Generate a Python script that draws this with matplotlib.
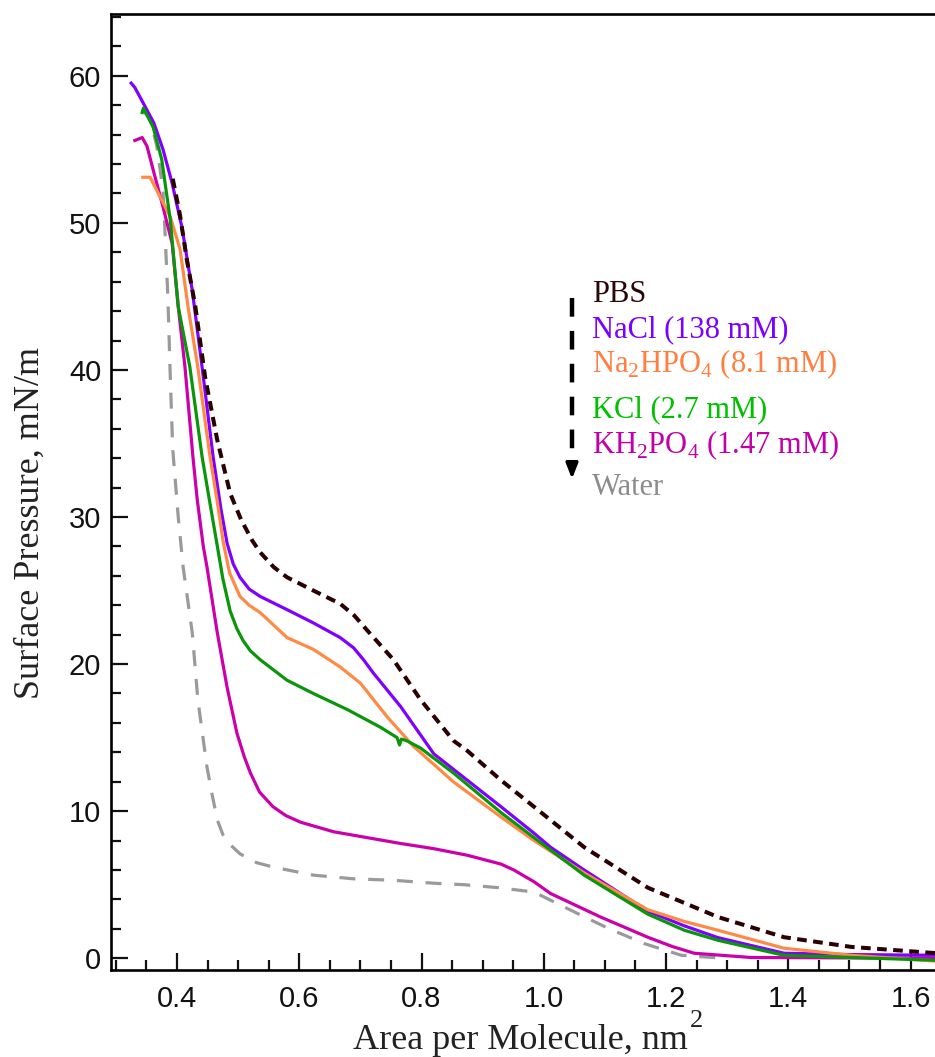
import matplotlib
matplotlib.use("Agg")
import matplotlib.pyplot as plt
from matplotlib.ticker import MultipleLocator
from matplotlib.lines import Line2D

# ---------------- data ----------------
pbs_x = [0.393, 0.405, 0.416, 0.430, 0.446, 0.466, 0.487, 0.505, 0.523, 0.536, 0.558, 0.580,
         0.623, 0.667, 0.690, 0.711, 0.754, 0.798, 0.852, 0.875, 0.930, 0.984, 1.066, 1.170,
         1.285, 1.393, 1.503, 1.643]
pbs_y = [53.0, 50.5, 47.5, 44.3, 39.5, 35.2, 31.6, 29.8, 28.4, 27.6, 26.6, 25.9,
         25.0, 24.1, 23.3, 22.3, 20.3, 17.6, 14.8, 14.1, 12.1, 10.3, 7.55, 4.8,
         2.8, 1.43, 0.77, 0.34]

nacl_x = [0.325, 0.331, 0.344, 0.362, 0.377, 0.392, 0.408, 0.425, 0.441, 0.459, 0.472, 0.482,
          0.492, 0.503, 0.518, 0.536, 0.580, 0.623, 0.667, 0.689, 0.705, 0.721, 0.766, 0.820,
          0.875, 0.930, 0.984, 1.011, 1.066, 1.170, 1.230, 1.285, 1.393, 1.500, 1.643]
nacl_y = [59.5, 59.2, 58.2, 56.8, 55.0, 52.7, 49.7, 45.4, 40.2, 34.1, 30.5, 28.2,
          26.8, 25.9, 25.1, 24.6, 23.7, 22.8, 21.8, 21.1, 20.3, 19.4, 17.1, 13.9,
          12.1, 10.3, 8.5, 7.55, 6.0, 3.2, 2.2, 1.4, 0.34, 0.25, 0.2]

na2_x = [0.344, 0.356, 0.367, 0.389, 0.405, 0.418, 0.434, 0.454, 0.466, 0.476, 0.486, 0.503,
         0.518, 0.536, 0.580, 0.623, 0.667, 0.700, 0.744, 0.787, 0.852, 0.930, 0.984, 1.066,
         1.170, 1.230, 1.285, 1.393, 1.503, 1.643]
na2_y = [53.1, 53.1, 52.2, 50.4, 48.2, 44.3, 40.2, 34.1, 31.0, 28.2, 26.2, 24.6,
         24.0, 23.5, 21.8, 21.0, 19.8, 18.7, 16.4, 14.4, 12.0, 9.6, 8.0, 5.8,
         3.3, 2.5, 1.9, 0.68, 0.2, -0.2]

kcl_x = [0.343, 0.345, 0.361, 0.375, 0.389, 0.402, 0.421, 0.441, 0.454, 0.466, 0.475, 0.487,
         0.498, 0.508, 0.520, 0.536, 0.580, 0.623, 0.679, 0.733, 0.760, 0.764, 0.767, 0.775,
         0.798, 0.852, 0.930, 0.984, 1.066, 1.170, 1.230, 1.285, 1.393, 1.643]
kcl_y = [57.5, 57.8, 56.5, 54.3, 50.2, 44.3, 40.2, 34.1, 30.9, 28.0, 25.8, 23.6,
         22.4, 21.6, 20.9, 20.3, 18.9, 18.0, 16.9, 15.7, 15.0, 14.5, 14.9, 14.8,
         14.3, 12.6, 9.9, 8.2, 5.65, 3.0, 1.9, 1.22, 0.2, -0.14]

kh2_x = [0.331, 0.343, 0.351, 0.361, 0.377, 0.392, 0.402, 0.413, 0.426, 0.433, 0.443, 0.449,
         0.466, 0.482, 0.498, 0.510, 0.520, 0.535, 0.557, 0.578, 0.602, 0.656, 0.711, 0.766,
         0.820, 0.875, 0.930, 0.951, 0.984, 1.011, 1.093, 1.170, 1.210, 1.246, 1.339, 1.643]
kh2_y = [55.6, 55.8, 55.2, 53.6, 51.1, 48.6, 44.3, 40.2, 34.1, 31.2, 28.0, 26.6,
         22.1, 18.4, 15.3, 13.7, 12.6, 11.3, 10.3, 9.7, 9.25, 8.6, 8.2, 7.8,
         7.45, 7.0, 6.4, 6.0, 5.2, 4.4, 2.8, 1.43, 0.8, 0.34, 0.05, 0.0]

water_x = [0.343, 0.356, 0.367, 0.377, 0.380, 0.385, 0.389, 0.393, 0.402, 0.410, 0.425, 0.434,
           0.449, 0.458, 0.466, 0.475, 0.485, 0.503, 0.530, 0.557, 0.623, 0.689, 0.754, 0.820,
           0.869, 0.925, 0.984, 1.044, 1.105, 1.164, 1.225, 1.295]
water_y = [57.7, 57.1, 55.2, 52.2, 49.7, 45.0, 39.5, 34.6, 30.0, 26.6, 22.1, 17.6,
           13.0, 11.0, 9.4, 8.4, 7.8, 7.1, 6.5, 6.2, 5.65, 5.4, 5.3, 5.1,
           5.0, 4.8, 4.5, 3.27, 2.04, 1.0, 0.2, 0.0]

legend_labels = ["PBS", "NaCl (138 mM)", "Na$_\\mathregular{2}$HPO$_\\mathregular{4}$ (8.1 mM)",
                 "KCl (2.7 mM)", "KH$_\\mathregular{2}$PO$_\\mathregular{4}$ (1.47 mM)", "Water"]
legend_colors = ["#2b0606", "#7a00ff", "#ff7f40", "#00c000", "#c000a8", "#8c8c8c"]

x_label = "Area per Molecule, nm"
x_label_sup = "2"
y_label = "Surface Pressure, mN/m"

# ---------------- styling ----------------
plt.rcParams['font.family'] = ['Liberation Sans', 'DejaVu Sans']
plt.rcParams['mathtext.fontset'] = 'custom'
plt.rcParams['mathtext.rm'] = 'Liberation Serif'

fig = plt.figure(figsize=(9.35, 10.57), dpi=100)
W, H = 935, 1057
ax = fig.add_axes([111 / W, 1 - 970 / H, (W - 111) / W + 0.002, (970 - 14) / H])

c_pbs, c_nacl, c_na2, c_kcl, c_kh2, c_water = "#2b0000", "#8000ff", "#ff8a45", "#0a960a", "#cc00aa", "#9a9a9a"

ax.plot(water_x, water_y, color=c_water, lw=2.3, dashes=(5, 4), zorder=2)
ax.plot(kh2_x, kh2_y, color=c_kh2, lw=2.3, zorder=3)
ax.plot(nacl_x, nacl_y, color=c_nacl, lw=2.3, zorder=4)
ax.plot(na2_x, na2_y, color=c_na2, lw=2.3, zorder=5)
ax.plot(kcl_x, kcl_y, color=c_kcl, lw=2.3, zorder=6)
ax.plot(pbs_x, pbs_y, color=c_pbs, lw=2.9, dashes=(2.4, 1.6), zorder=7)

ax.set_xlim(0.292, 1.643)
ax.set_ylim(-0.8, 64.2)

ax.spines['right'].set_visible(False)
for s in ['left', 'bottom', 'top']:
    ax.spines[s].set_linewidth(1.9)
ax.xaxis.set_major_locator(MultipleLocator(0.2))
ax.xaxis.set_minor_locator(MultipleLocator(0.05))
ax.yaxis.set_major_locator(MultipleLocator(10))
ax.yaxis.set_minor_locator(MultipleLocator(2))
ax.xaxis.set_major_formatter(matplotlib.ticker.FormatStrFormatter('%.1f'))
ax.tick_params(which='both', direction='in', top=False, right=False, width=1.6, labelsize=21,
               colors='#111111')
ax.tick_params(which='major', length=12.5)
ax.tick_params(which='minor', length=7.5)
ax.tick_params(axis='x', which='major', pad=11)
ax.tick_params(axis='y', which='major', pad=7)

# x label: main text plus raised "2"
t = fig.text(353 / W, 1 - 1049 / H, x_label, family='Liberation Serif', fontsize=26,
             ha='left', va='baseline', color='#222222')
fig.canvas.draw()
bb = t.get_window_extent(renderer=fig.canvas.get_renderer())
fig.text((bb.x1 + 2) / W, 1 - 1027 / H, x_label_sup, family='Liberation Serif', fontsize=19,
         ha='left', va='baseline', color='#222222')
fig.text(30 / W, 1 - 523 / H, y_label, family='Liberation Serif', fontsize=26,
         ha='center', va='center', rotation=90, color='#222222')

# legend text
baselines = [302, 337, 372, 417, 453, 495]
for lab, col, yb in zip(legend_labels, legend_colors, baselines):
    fig.text(592 / W, 1 - yb / H, lab, family='Liberation Serif', fontsize=22,
             color=col, ha='left', va='baseline')

# dashed arrow
fig.add_artist(Line2D([572 / W, 572 / W], [1 - 298 / H, 1 - 466 / H], transform=fig.transFigure,
                      color='black', lw=3.2, dashes=(4.2, 3.2)))
ax.annotate('', xy=(572 / W, 1 - 479 / H), xytext=(572 / W, 1 - 462 / H),
            xycoords='figure fraction', textcoords='figure fraction',
            arrowprops=dict(arrowstyle='-|>,head_length=0.9,head_width=0.35', color='black',
                            lw=2.5, shrinkA=0, shrinkB=0))

fig.savefig("out.png", dpi=100)
